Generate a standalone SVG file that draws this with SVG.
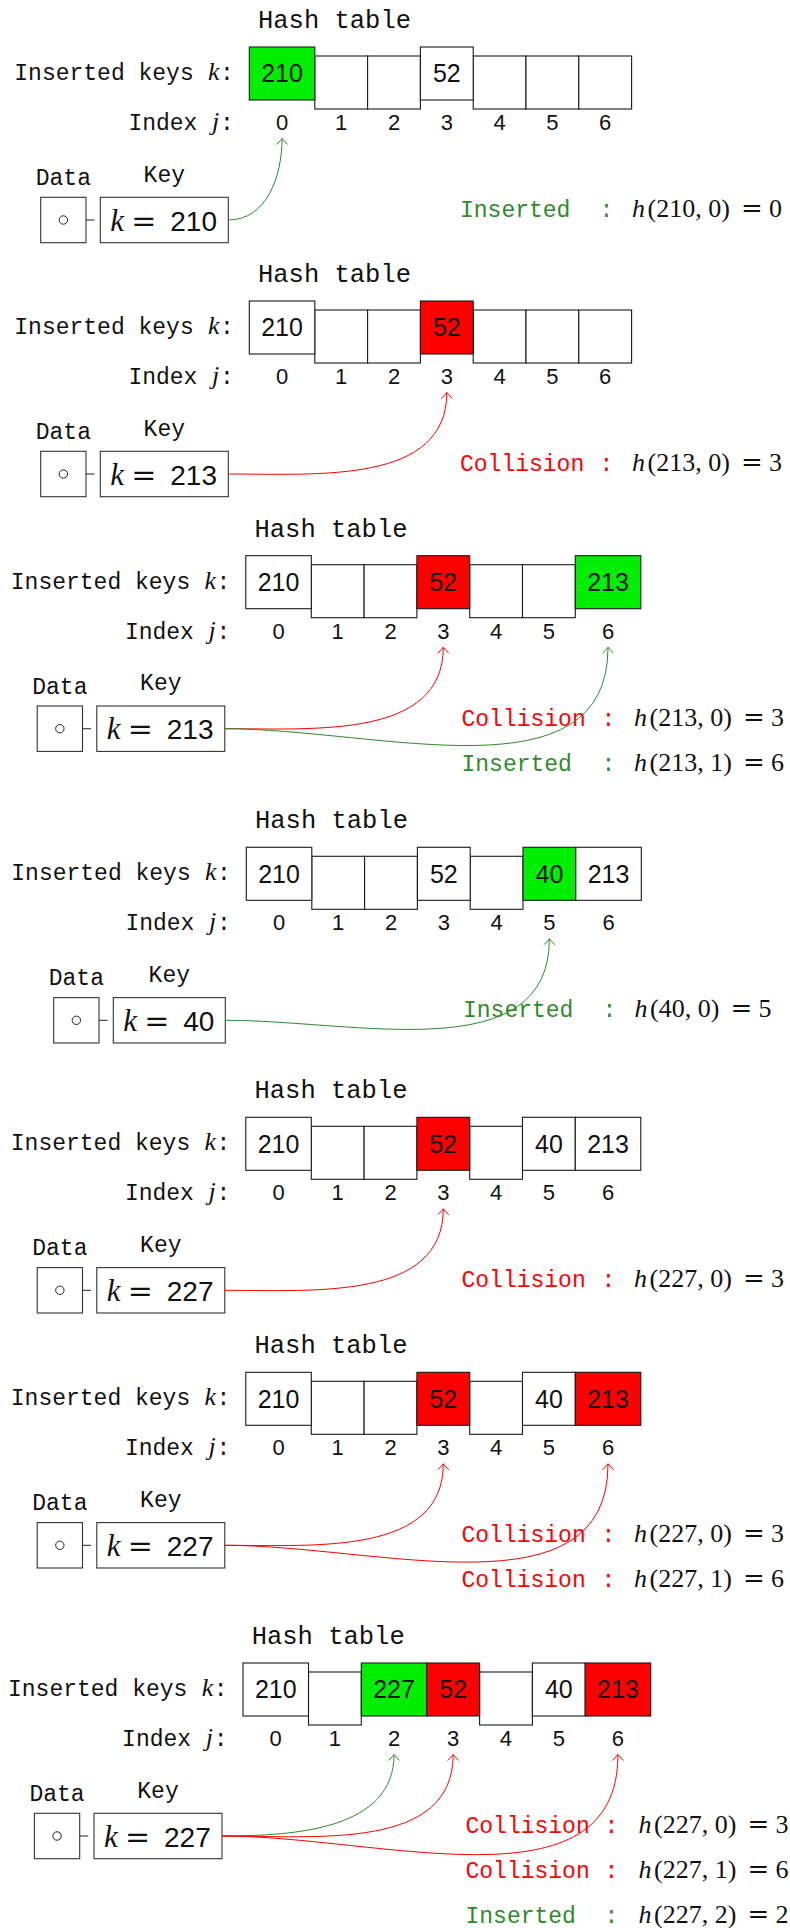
<svg xmlns="http://www.w3.org/2000/svg" width="790" height="1928" viewBox="0 0 790 1928">
<defs>
<style>
.c{fill:#fff;stroke:#1a1a1a;stroke-width:1.1}
.cg{fill:#00ee00;stroke:#1a1a1a;stroke-width:1.1}
.cr{fill:#ff0000;stroke:#1a1a1a;stroke-width:1.1}
.b{fill:#fff;stroke:#333;stroke-width:1.1}
.mono{font-family:"Liberation Mono","DejaVu Sans Mono",monospace;font-size:23px;fill:#111}
.ttl{font-size:25.5px;text-anchor:middle}
.mid{text-anchor:middle}
.ct{font-family:"Liberation Sans",Arial,sans-serif;font-size:25px;text-anchor:middle;fill:#111}
.ix{font-family:"Liberation Sans",Arial,sans-serif;font-size:22px;text-anchor:middle;fill:#111}
.kn{font-family:"Liberation Sans",Arial,sans-serif;font-size:28px;fill:#111}
.mi{font-family:"Liberation Serif",serif;font-style:italic;font-size:26px;fill:#111}
.ms{font-family:"Liberation Serif",serif;font-size:26px;fill:#111}
.eq{font-family:"DejaVu Serif",serif;font-style:normal}
.gt{fill:#2e8b2a}
.rt{fill:#ff0000}
.ag{fill:none;stroke:#2e8b2a;stroke-width:1;marker-end:url(#mg)}
.ar{fill:none;stroke:#ff0000;stroke-width:1;marker-end:url(#mr)}
.dash{stroke:#333;stroke-width:1.1}
.dot{fill:none;stroke:#222;stroke-width:1}
</style>
<marker id="mg" viewBox="-8 -8 16 16" markerWidth="16" markerHeight="16" refX="0" refY="0" orient="auto" markerUnits="userSpaceOnUse"><path d="M-6,-5.5 Q-1.5,-1 0,0 Q-1.5,1 -6,5.5" fill="none" stroke="#2e8b2a" stroke-width="1"/></marker>
<marker id="mr" viewBox="-8 -8 16 16" markerWidth="16" markerHeight="16" refX="0" refY="0" orient="auto" markerUnits="userSpaceOnUse"><path d="M-6,-5.5 Q-1.5,-1 0,0 Q-1.5,1 -6,5.5" fill="none" stroke="#ff0000" stroke-width="1"/></marker>
</defs>
<rect width="790" height="1928" fill="#fff"/>

<!-- Panel 1 -->
<g id="panel1" transform="translate(0,28)">
<g id="p1-title"><text class="mono ttl" x="334.5" y="0">Hash table</text></g>
<g id="p1-labels">
<text class="mono" x="14.3" y="52">Inserted keys<tspan class="mi" x="208">k</tspan><tspan x="220">:</tspan></text>
<text class="mono" x="128.4" y="102">Index<tspan class="mi" x="212">j</tspan><tspan x="220">:</tspan></text>
</g>
<g id="p1-cell1"><rect class="c" x="314.8" y="28" width="52.8" height="53"/></g>
<g id="p1-cell2"><rect class="c" x="367.6" y="28" width="52.8" height="53"/></g>
<g id="p1-cell4"><rect class="c" x="473.2" y="28" width="52.8" height="53"/></g>
<g id="p1-cell5"><rect class="c" x="526" y="28" width="52.8" height="53"/></g>
<g id="p1-cell6"><rect class="c" x="578.8" y="28" width="52.8" height="53"/></g>
<g id="p1-cell0"><rect class="cg" x="249.3" y="19" width="65.5" height="53"/><text class="ct" x="282.05" y="54.3">210</text></g>
<g id="p1-cell3"><rect class="c" x="420.4" y="19" width="52.8" height="53"/><text class="ct" x="446.8" y="54.3">52</text></g>
<g id="p1-index">
<text class="ix" x="282.05" y="102">0</text><text class="ix" x="341.2" y="102">1</text><text class="ix" x="394" y="102">2</text><text class="ix" x="446.8" y="102">3</text><text class="ix" x="499.6" y="102">4</text><text class="ix" x="552.4" y="102">5</text><text class="ix" x="605.2" y="102">6</text>
</g>
<g id="p1-data"><text class="mono mid" x="63.35" y="157">Data</text><rect class="b" x="40.7" y="169.3" width="45.3" height="45.4"/><circle class="dot" cx="63.35" cy="192" r="4.2"/><line class="dash" x1="86" y1="192" x2="94.5" y2="192"/></g>
<g id="p1-key"><text class="mono mid" x="164.3" y="153.7">Key</text><rect class="b" x="100.3" y="169.3" width="128" height="45.4"/><text y="202.7"><tspan class="mi" x="110.3" style="font-size:31px">k</tspan><tspan class="ms eq" x="131.3" style="font-size:30px">=</tspan><tspan class="kn" x="170.3">210</tspan></text></g>
<g id="p1-result1"><text class="mono gt" x="460" y="189">Inserted</text><text class="mono gt mid" x="606.5" y="189">:</text><text class="ms" y="189"><tspan class="mi" x="632">h</tspan><tspan x="647.5">(210, 0)</tspan><tspan class="eq" x="741">=</tspan><tspan x="769">0</tspan></text></g>
</g>

<!-- Panel 2 -->
<g id="panel2" transform="translate(0,282)">
<g id="p2-title"><text class="mono ttl" x="334.5" y="0">Hash table</text></g>
<g id="p2-labels">
<text class="mono" x="14.3" y="52">Inserted keys<tspan class="mi" x="208">k</tspan><tspan x="220">:</tspan></text>
<text class="mono" x="128.4" y="102">Index<tspan class="mi" x="212">j</tspan><tspan x="220">:</tspan></text>
</g>
<g id="p2-cell1"><rect class="c" x="314.8" y="28" width="52.8" height="53"/></g>
<g id="p2-cell2"><rect class="c" x="367.6" y="28" width="52.8" height="53"/></g>
<g id="p2-cell4"><rect class="c" x="473.2" y="28" width="52.8" height="53"/></g>
<g id="p2-cell5"><rect class="c" x="526" y="28" width="52.8" height="53"/></g>
<g id="p2-cell6"><rect class="c" x="578.8" y="28" width="52.8" height="53"/></g>
<g id="p2-cell0"><rect class="c" x="249.3" y="19" width="65.5" height="53"/><text class="ct" x="282.05" y="54.3">210</text></g>
<g id="p2-cell3"><rect class="cr" x="420.4" y="19" width="52.8" height="53"/><text class="ct" x="446.8" y="54.3">52</text></g>
<g id="p2-index">
<text class="ix" x="282.05" y="102">0</text><text class="ix" x="341.2" y="102">1</text><text class="ix" x="394" y="102">2</text><text class="ix" x="446.8" y="102">3</text><text class="ix" x="499.6" y="102">4</text><text class="ix" x="552.4" y="102">5</text><text class="ix" x="605.2" y="102">6</text>
</g>
<g id="p2-data"><text class="mono mid" x="63.35" y="157">Data</text><rect class="b" x="40.7" y="169.3" width="45.3" height="45.4"/><circle class="dot" cx="63.35" cy="192" r="4.2"/><line class="dash" x1="86" y1="192" x2="94.5" y2="192"/></g>
<g id="p2-key"><text class="mono mid" x="164.3" y="153.7">Key</text><rect class="b" x="100.3" y="169.3" width="128" height="45.4"/><text y="202.7"><tspan class="mi" x="110.3" style="font-size:31px">k</tspan><tspan class="ms eq" x="131.3" style="font-size:30px">=</tspan><tspan class="kn" x="170.3">213</tspan></text></g>
<g id="p2-result1"><text class="mono rt" x="460" y="189">Collision</text><text class="mono rt mid" x="606.5" y="189">:</text><text class="ms" y="189"><tspan class="mi" x="632">h</tspan><tspan x="647.5">(213, 0)</tspan><tspan class="eq" x="741">=</tspan><tspan x="769">3</tspan></text></g>
</g>

<!-- Panel 3 -->
<g id="panel3" transform="translate(-3.5,536.7)">
<g id="p3-title"><text class="mono ttl" x="334.5" y="0">Hash table</text></g>
<g id="p3-labels">
<text class="mono" x="14.3" y="52">Inserted keys<tspan class="mi" x="208">k</tspan><tspan x="220">:</tspan></text>
<text class="mono" x="128.4" y="102">Index<tspan class="mi" x="212">j</tspan><tspan x="220">:</tspan></text>
</g>
<g id="p3-cell1"><rect class="c" x="314.8" y="28" width="52.8" height="53"/></g>
<g id="p3-cell2"><rect class="c" x="367.6" y="28" width="52.8" height="53"/></g>
<g id="p3-cell4"><rect class="c" x="473.2" y="28" width="52.8" height="53"/></g>
<g id="p3-cell5"><rect class="c" x="526" y="28" width="52.8" height="53"/></g>
<g id="p3-cell0"><rect class="c" x="249.3" y="19" width="65.5" height="53"/><text class="ct" x="282.05" y="54.3">210</text></g>
<g id="p3-cell3"><rect class="cr" x="420.4" y="19" width="52.8" height="53"/><text class="ct" x="446.8" y="54.3">52</text></g>
<g id="p3-cell6"><rect class="cg" x="578.8" y="19" width="65.5" height="53"/><text class="ct" x="611.55" y="54.3">213</text></g>
<g id="p3-index">
<text class="ix" x="282.05" y="102">0</text><text class="ix" x="341.2" y="102">1</text><text class="ix" x="394" y="102">2</text><text class="ix" x="446.8" y="102">3</text><text class="ix" x="499.6" y="102">4</text><text class="ix" x="552.4" y="102">5</text><text class="ix" x="611.55" y="102">6</text>
</g>
<g id="p3-data"><text class="mono mid" x="63.35" y="157">Data</text><rect class="b" x="40.7" y="169.3" width="45.3" height="45.4"/><circle class="dot" cx="63.35" cy="192" r="4.2"/><line class="dash" x1="86" y1="192" x2="94.5" y2="192"/></g>
<g id="p3-key"><text class="mono mid" x="164.3" y="153.7">Key</text><rect class="b" x="100.3" y="169.3" width="128" height="45.4"/><text y="202.7"><tspan class="mi" x="110.3" style="font-size:31px">k</tspan><tspan class="ms eq" x="131.3" style="font-size:30px">=</tspan><tspan class="kn" x="170.3">213</tspan></text></g>
<g id="p3-result1"><text class="mono rt" x="465" y="189">Collision</text><text class="mono rt mid" x="612" y="189">:</text><text class="ms" y="189"><tspan class="mi" x="637.5">h</tspan><tspan x="653">(213, 0)</tspan><tspan class="eq" x="746.5">=</tspan><tspan x="774.5">3</tspan></text></g>
<g id="p3-result2"><text class="mono gt" x="465" y="234">Inserted</text><text class="mono gt mid" x="612" y="234">:</text><text class="ms" y="234"><tspan class="mi" x="637.5">h</tspan><tspan x="653">(213, 1)</tspan><tspan class="eq" x="746.5">=</tspan><tspan x="774.5">6</tspan></text></g>
</g>

<!-- Panel 4 -->
<g id="panel4" transform="translate(-3,828.3)">
<g id="p4-title"><text class="mono ttl" x="334.5" y="0">Hash table</text></g>
<g id="p4-labels">
<text class="mono" x="14.3" y="52">Inserted keys<tspan class="mi" x="208">k</tspan><tspan x="220">:</tspan></text>
<text class="mono" x="128.4" y="102">Index<tspan class="mi" x="212">j</tspan><tspan x="220">:</tspan></text>
</g>
<g id="p4-cell1"><rect class="c" x="314.8" y="28" width="52.8" height="53"/></g>
<g id="p4-cell2"><rect class="c" x="367.6" y="28" width="52.8" height="53"/></g>
<g id="p4-cell4"><rect class="c" x="473.2" y="28" width="52.8" height="53"/></g>
<g id="p4-cell0"><rect class="c" x="249.3" y="19" width="65.5" height="53"/><text class="ct" x="282.05" y="54.3">210</text></g>
<g id="p4-cell3"><rect class="c" x="420.4" y="19" width="52.8" height="53"/><text class="ct" x="446.8" y="54.3">52</text></g>
<g id="p4-cell5"><rect class="cg" x="526" y="19" width="52.8" height="53"/><text class="ct" x="552.4" y="54.3">40</text></g>
<g id="p4-cell6"><rect class="c" x="578.8" y="19" width="65.5" height="53"/><text class="ct" x="611.55" y="54.3">213</text></g>
<g id="p4-index">
<text class="ix" x="282.05" y="102">0</text><text class="ix" x="341.2" y="102">1</text><text class="ix" x="394" y="102">2</text><text class="ix" x="446.8" y="102">3</text><text class="ix" x="499.6" y="102">4</text><text class="ix" x="552.4" y="102">5</text><text class="ix" x="611.55" y="102">6</text>
</g>
<g id="p4-data"><text class="mono mid" x="79.35" y="157">Data</text><rect class="b" x="56.7" y="169.3" width="45.3" height="45.4"/><circle class="dot" cx="79.35" cy="192" r="4.2"/><line class="dash" x1="102" y1="192" x2="110.5" y2="192"/></g>
<g id="p4-key"><text class="mono mid" x="172.3" y="153.7">Key</text><rect class="b" x="116.3" y="169.3" width="112" height="45.4"/><text y="202.7"><tspan class="mi" x="126.3" style="font-size:31px">k</tspan><tspan class="ms eq" x="147.3" style="font-size:30px">=</tspan><tspan class="kn" x="186.3">40</tspan></text></g>
<g id="p4-result1"><text class="mono gt" x="466" y="189">Inserted</text><text class="mono gt mid" x="612.4" y="189">:</text><text class="ms" y="189"><tspan class="mi" x="637.5">h</tspan><tspan x="653">(40, 0)</tspan><tspan class="eq" x="733.5">=</tspan><tspan x="761.5">5</tspan></text></g>
</g>

<!-- Panel 5 -->
<g id="panel5" transform="translate(-3.5,1098.3)">
<g id="p5-title"><text class="mono ttl" x="334.5" y="0">Hash table</text></g>
<g id="p5-labels">
<text class="mono" x="14.3" y="52">Inserted keys<tspan class="mi" x="208">k</tspan><tspan x="220">:</tspan></text>
<text class="mono" x="128.4" y="102">Index<tspan class="mi" x="212">j</tspan><tspan x="220">:</tspan></text>
</g>
<g id="p5-cell1"><rect class="c" x="314.8" y="28" width="52.8" height="53"/></g>
<g id="p5-cell2"><rect class="c" x="367.6" y="28" width="52.8" height="53"/></g>
<g id="p5-cell4"><rect class="c" x="473.2" y="28" width="52.8" height="53"/></g>
<g id="p5-cell0"><rect class="c" x="249.3" y="19" width="65.5" height="53"/><text class="ct" x="282.05" y="54.3">210</text></g>
<g id="p5-cell3"><rect class="cr" x="420.4" y="19" width="52.8" height="53"/><text class="ct" x="446.8" y="54.3">52</text></g>
<g id="p5-cell5"><rect class="c" x="526" y="19" width="52.8" height="53"/><text class="ct" x="552.4" y="54.3">40</text></g>
<g id="p5-cell6"><rect class="c" x="578.8" y="19" width="65.5" height="53"/><text class="ct" x="611.55" y="54.3">213</text></g>
<g id="p5-index">
<text class="ix" x="282.05" y="102">0</text><text class="ix" x="341.2" y="102">1</text><text class="ix" x="394" y="102">2</text><text class="ix" x="446.8" y="102">3</text><text class="ix" x="499.6" y="102">4</text><text class="ix" x="552.4" y="102">5</text><text class="ix" x="611.55" y="102">6</text>
</g>
<g id="p5-data"><text class="mono mid" x="63.35" y="157">Data</text><rect class="b" x="40.7" y="169.3" width="45.3" height="45.4"/><circle class="dot" cx="63.35" cy="192" r="4.2"/><line class="dash" x1="86" y1="192" x2="94.5" y2="192"/></g>
<g id="p5-key"><text class="mono mid" x="164.3" y="153.7">Key</text><rect class="b" x="100.3" y="169.3" width="128" height="45.4"/><text y="202.7"><tspan class="mi" x="110.3" style="font-size:31px">k</tspan><tspan class="ms eq" x="131.3" style="font-size:30px">=</tspan><tspan class="kn" x="170.3">227</tspan></text></g>
<g id="p5-result1"><text class="mono rt" x="465" y="189">Collision</text><text class="mono rt mid" x="612" y="189">:</text><text class="ms" y="189"><tspan class="mi" x="637.5">h</tspan><tspan x="653">(227, 0)</tspan><tspan class="eq" x="746.5">=</tspan><tspan x="774.5">3</tspan></text></g>
</g>

<!-- Panel 6 -->
<g id="panel6" transform="translate(-3.5,1353.3)">
<g id="p6-title"><text class="mono ttl" x="334.5" y="0">Hash table</text></g>
<g id="p6-labels">
<text class="mono" x="14.3" y="52">Inserted keys<tspan class="mi" x="208">k</tspan><tspan x="220">:</tspan></text>
<text class="mono" x="128.4" y="102">Index<tspan class="mi" x="212">j</tspan><tspan x="220">:</tspan></text>
</g>
<g id="p6-cell1"><rect class="c" x="314.8" y="28" width="52.8" height="53"/></g>
<g id="p6-cell2"><rect class="c" x="367.6" y="28" width="52.8" height="53"/></g>
<g id="p6-cell4"><rect class="c" x="473.2" y="28" width="52.8" height="53"/></g>
<g id="p6-cell0"><rect class="c" x="249.3" y="19" width="65.5" height="53"/><text class="ct" x="282.05" y="54.3">210</text></g>
<g id="p6-cell3"><rect class="cr" x="420.4" y="19" width="52.8" height="53"/><text class="ct" x="446.8" y="54.3">52</text></g>
<g id="p6-cell5"><rect class="c" x="526" y="19" width="52.8" height="53"/><text class="ct" x="552.4" y="54.3">40</text></g>
<g id="p6-cell6"><rect class="cr" x="578.8" y="19" width="65.5" height="53"/><text class="ct" x="611.55" y="54.3">213</text></g>
<g id="p6-index">
<text class="ix" x="282.05" y="102">0</text><text class="ix" x="341.2" y="102">1</text><text class="ix" x="394" y="102">2</text><text class="ix" x="446.8" y="102">3</text><text class="ix" x="499.6" y="102">4</text><text class="ix" x="552.4" y="102">5</text><text class="ix" x="611.55" y="102">6</text>
</g>
<g id="p6-data"><text class="mono mid" x="63.35" y="157">Data</text><rect class="b" x="40.7" y="169.3" width="45.3" height="45.4"/><circle class="dot" cx="63.35" cy="192" r="4.2"/><line class="dash" x1="86" y1="192" x2="94.5" y2="192"/></g>
<g id="p6-key"><text class="mono mid" x="164.3" y="153.7">Key</text><rect class="b" x="100.3" y="169.3" width="128" height="45.4"/><text y="202.7"><tspan class="mi" x="110.3" style="font-size:31px">k</tspan><tspan class="ms eq" x="131.3" style="font-size:30px">=</tspan><tspan class="kn" x="170.3">227</tspan></text></g>
<g id="p6-result1"><text class="mono rt" x="465" y="189">Collision</text><text class="mono rt mid" x="612" y="189">:</text><text class="ms" y="189"><tspan class="mi" x="637.5">h</tspan><tspan x="653">(227, 0)</tspan><tspan class="eq" x="746.5">=</tspan><tspan x="774.5">3</tspan></text></g>
<g id="p6-result2"><text class="mono rt" x="465" y="234">Collision</text><text class="mono rt mid" x="612" y="234">:</text><text class="ms" y="234"><tspan class="mi" x="637.5">h</tspan><tspan x="653">(227, 1)</tspan><tspan class="eq" x="746.5">=</tspan><tspan x="774.5">6</tspan></text></g>
</g>

<!-- Panel 7 -->
<g id="panel7" transform="translate(-6.3,1644)">
<g id="p7-title"><text class="mono ttl" x="334.5" y="0">Hash table</text></g>
<g id="p7-labels">
<text class="mono" x="14.3" y="52">Inserted keys<tspan class="mi" x="208">k</tspan><tspan x="220">:</tspan></text>
<text class="mono" x="128.4" y="102">Index<tspan class="mi" x="212">j</tspan><tspan x="220">:</tspan></text>
</g>
<g id="p7-cell1"><rect class="c" x="314.8" y="28" width="52.8" height="53"/></g>
<g id="p7-cell4"><rect class="c" x="485.9" y="28" width="52.8" height="53"/></g>
<g id="p7-cell0"><rect class="c" x="249.3" y="19" width="65.5" height="53"/><text class="ct" x="282.05" y="54.3">210</text></g>
<g id="p7-cell2"><rect class="cg" x="367.6" y="19" width="65.5" height="53"/><text class="ct" x="400.35" y="54.3">227</text></g>
<g id="p7-cell3"><rect class="cr" x="433.1" y="19" width="52.8" height="53"/><text class="ct" x="459.5" y="54.3">52</text></g>
<g id="p7-cell5"><rect class="c" x="538.7" y="19" width="52.8" height="53"/><text class="ct" x="565.1" y="54.3">40</text></g>
<g id="p7-cell6"><rect class="cr" x="591.5" y="19" width="65.5" height="53"/><text class="ct" x="624.25" y="54.3">213</text></g>
<g id="p7-index">
<text class="ix" x="282.05" y="102">0</text><text class="ix" x="341.2" y="102">1</text><text class="ix" x="400.35" y="102">2</text><text class="ix" x="459.5" y="102">3</text><text class="ix" x="512.3" y="102">4</text><text class="ix" x="565.1" y="102">5</text><text class="ix" x="624.25" y="102">6</text>
</g>
<g id="p7-data"><text class="mono mid" x="63.35" y="157">Data</text><rect class="b" x="40.7" y="169.3" width="45.3" height="45.4"/><circle class="dot" cx="63.35" cy="192" r="4.2"/><line class="dash" x1="86" y1="192" x2="94.5" y2="192"/></g>
<g id="p7-key"><text class="mono mid" x="164.3" y="153.7">Key</text><rect class="b" x="100.3" y="169.3" width="128" height="45.4"/><text y="202.7"><tspan class="mi" x="110.3" style="font-size:31px">k</tspan><tspan class="ms eq" x="131.3" style="font-size:30px">=</tspan><tspan class="kn" x="170.3">227</tspan></text></g>
<g id="p7-result1"><text class="mono rt" x="471.8" y="189">Collision</text><text class="mono rt mid" x="617.8" y="189">:</text><text class="ms" y="189"><tspan class="mi" x="644.8">h</tspan><tspan x="660.3">(227, 0)</tspan><tspan class="eq" x="753.8">=</tspan><tspan x="781.8">3</tspan></text></g>
<g id="p7-result2"><text class="mono rt" x="471.8" y="234">Collision</text><text class="mono rt mid" x="617.8" y="234">:</text><text class="ms" y="234"><tspan class="mi" x="644.8">h</tspan><tspan x="660.3">(227, 1)</tspan><tspan class="eq" x="753.8">=</tspan><tspan x="781.8">6</tspan></text></g>
<g id="p7-result3"><text class="mono gt" x="471.8" y="279">Inserted</text><text class="mono gt mid" x="617.8" y="279">:</text><text class="ms" y="279"><tspan class="mi" x="644.8">h</tspan><tspan x="660.3">(227, 2)</tspan><tspan class="eq" x="753.8">=</tspan><tspan x="781.8">2</tspan></text></g>
</g>

<!-- Connectors -->
<g id="connectors">
<g transform="translate(0,28)"><path class="ag" d="M228.3,192 C266.5,192 282.05,148.7 282.05,110.5"/></g>
<g transform="translate(0,282)"><path class="ar" d="M228.3,192 C319.6,192 446.8,201.8 446.8,110.5"/></g>
<g transform="translate(-3.5,536.7)"><path class="ar" d="M228.3,192 C319.6,192 446.8,201.8 446.8,110.5"/><path class="ag" d="M228.3,192 C381.7,192 611.55,263.9 611.55,110.5"/></g>
<g transform="translate(-3,828.3)"><path class="ag" d="M228.3,192 C359.1,192 552.4,241.3 552.4,110.5"/></g>
<g transform="translate(-3.5,1098.3)"><path class="ar" d="M228.3,192 C319.6,192 446.8,201.8 446.8,110.5"/></g>
<g transform="translate(-3.5,1353.3)"><path class="ar" d="M228.3,192 C319.6,192 446.8,201.8 446.8,110.5"/><path class="ar" d="M228.3,192 C381.7,192 611.55,263.9 611.55,110.5"/></g>
<g transform="translate(-6.3,1644)"><path class="ag" d="M228.3,192 C302.8,192 400.35,185 400.35,110.5"/><path class="ar" d="M228.3,192 C324.3,192 459.5,206.5 459.5,110.5"/><path class="ar" d="M228.3,192 C386.6,192 624.25,268.8 624.25,110.5"/></g>
</g>
</svg>
